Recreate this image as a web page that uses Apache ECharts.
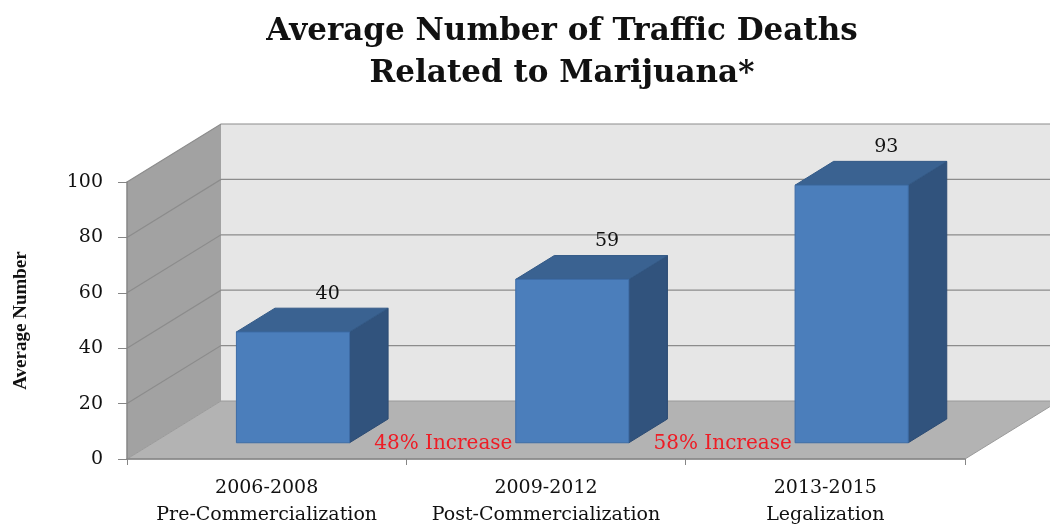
<!DOCTYPE html>
<html>
<head>
<meta charset="utf-8">
<script src="https://cdn.jsdelivr.net/npm/echarts@6/dist/echarts.min.js"></script>
<style>
  html, body { margin: 0; padding: 0; background: #ffffff; }
  #chart { width: 1050px; height: 529px; }
</style>
</head>
<body>
<div id="chart"></div>
<script>
// Chart data
const categories = [
  '2006-2008\nPre-Commercialization',
  '2009-2012\nPost-Commercialization',
  '2013-2015\nLegalization'
];
const averageDeaths = [40, 59, 93];
const yTicks = [0, 20, 40, 60, 80, 100];
const increaseNotes = ['48% Increase', '58% Increase'];

// Oblique projection of the chart box: how far the back plane sits from the front plane
const DX = 94, DY = -58;
// Bar placement inside the box depth (0 = front plane, 1 = back wall) and width share of a band
const BAR_FRONT = 0.28, BAR_BACK = 0.69, BAR_WIDTH = 0.405;

const SERIF = '"DejaVu Serif", "Liberation Serif", serif';

function renderWalls(params, api) {
  const cs = params.coordSys;
  const x0 = cs.x, x1 = cs.x + cs.width;
  const yBase = api.coord([0, yTicks[0]])[1];
  const yTop = api.coord([0, yTicks[yTicks.length - 1]])[1];
  const children = [
    { // back wall
      type: 'polygon',
      shape: { points: [[x0 + DX, yTop + DY], [x1 + DX, yTop + DY], [x1 + DX, yBase + DY], [x0 + DX, yBase + DY]] },
      style: { fill: '#e6e6e6' }
    },
    { // left side wall
      type: 'polygon',
      shape: { points: [[x0, yTop], [x0 + DX, yTop + DY], [x0 + DX, yBase + DY], [x0, yBase]] },
      style: { fill: '#a2a2a2' }
    },
    { // floor
      type: 'polygon',
      shape: { points: [[x0, yBase], [x1, yBase], [x1 + DX, yBase + DY], [x0 + DX, yBase + DY]] },
      style: { fill: '#b3b3b3', stroke: '#9a9a9a', lineWidth: 1 }
    }
  ];
  yTicks.forEach(function (v) {
    if (v === yTicks[0]) return;
    const y = api.coord([0, v])[1];
    children.push({
      type: 'polyline',
      shape: { points: [[x0, y], [x0 + DX, y + DY], [x1 + DX, y + DY]] },
      style: { stroke: '#8c8c8c', lineWidth: 1.2, fill: null }
    });
  });
  return { type: 'group', children: children };
}

function renderBar(params, api) {
  const idx = api.value(0);
  const val = api.value(1);
  const base = api.coord([idx, 0]);
  const top = api.coord([idx, val]);
  const w = api.size([1, 0])[0] * BAR_WIDTH;
  const fx = base[0] - w / 2 + BAR_FRONT * DX;
  const fyB = base[1] + BAR_FRONT * DY;
  const fyT = top[1] + BAR_FRONT * DY;
  const ddx = (BAR_BACK - BAR_FRONT) * DX;
  const ddy = (BAR_BACK - BAR_FRONT) * DY;
  return {
    type: 'group',
    children: [
      { // side face
        type: 'polygon',
        shape: { points: [[fx + w, fyT], [fx + w + ddx, fyT + ddy], [fx + w + ddx, fyB + ddy], [fx + w, fyB]] },
        style: { fill: '#31537d', stroke: '#2c4b73', lineWidth: 1 }
      },
      { // top face
        type: 'polygon',
        shape: { points: [[fx, fyT], [fx + w, fyT], [fx + w + ddx, fyT + ddy], [fx + ddx, fyT + ddy]] },
        style: { fill: '#3a6291', stroke: '#335a87', lineWidth: 1 }
      },
      { // front face
        type: 'rect',
        shape: { x: fx, y: fyT, width: w, height: fyB - fyT },
        style: { fill: '#4b7ebb', stroke: '#3d6ca6', lineWidth: 1 }
      },
      { // value label
        type: 'text',
        x: fx + w / 2 + ddx * 0.9,
        y: fyT + ddy - 14,
        style: {
          text: String(val),
          fontFamily: SERIF,
          fontSize: 19,
          fill: '#111111',
          align: 'center',
          verticalAlign: 'middle'
        }
      }
    ]
  };
}

function renderNote(params, api) {
  const i = api.value(0);
  const a = api.coord([i, 0]);
  const b = api.coord([i + 1, 0]);
  return {
    type: 'text',
    x: (a[0] + b[0]) / 2 + 37,
    y: a[1] - 15,
    style: {
      text: increaseNotes[i],
      fontFamily: SERIF,
      fontSize: 20,
      fill: '#ee1c25',
      align: 'center',
      verticalAlign: 'middle'
    }
  };
}

const chart = echarts.init(document.getElementById('chart'), null, { renderer: 'canvas' });
chart.setOption({
  animation: false,
  backgroundColor: '#ffffff',
  title: {
    text: 'Average Number of Traffic Deaths\nRelated to Marijuana*',
    left: 557,
    top: 6,
    textAlign: 'center',
    textStyle: {
      fontFamily: SERIF,
      fontWeight: 'bold',
      fontSize: 31,
      lineHeight: 42,
      color: '#111111'
    }
  },
  grid: { left: 127, right: 85, top: 182, bottom: 66, containLabel: false },
  xAxis: {
    type: 'category',
    data: categories,
    axisLine: { show: true, lineStyle: { color: '#868686', width: 1.5 } },
    axisTick: { show: true, interval: 0, length: 6, lineStyle: { color: '#868686' } },
    axisLabel: {
      interval: 0,
      hideOverlap: false,
      fontFamily: SERIF,
      fontSize: 19,
      lineHeight: 27,
      color: '#111111',
      margin: 16
    },
    splitLine: { show: false }
  },
  yAxis: {
    type: 'value',
    min: 0,
    max: 100,
    interval: 20,
    name: 'Average Number',
    nameLocation: 'middle',
    nameRotate: 90,
    nameGap: 96,
    nameTextStyle: {
      fontFamily: '"Liberation Serif", serif',
      fontWeight: 'bold',
      fontSize: 19,
      color: '#111111'
    },
    axisLine: { show: true, lineStyle: { color: '#868686', width: 1.5 } },
    axisTick: { show: true, length: 9, lineStyle: { color: '#868686' } },
    axisLabel: {
      fontFamily: SERIF,
      fontSize: 19,
      color: '#111111',
      margin: 24,
      customValues: yTicks
    },
    splitLine: { show: false }
  },
  series: [
    {
      type: 'custom',
      name: 'walls',
      renderItem: renderWalls,
      data: [[0, 0]],
      clip: false,
      z: 0,
      silent: true
    },
    {
      type: 'custom',
      name: 'Average Number',
      renderItem: renderBar,
      data: averageDeaths.map(function (v, i) { return [i, v]; }),
      clip: false,
      z: 3
    },
    {
      type: 'custom',
      name: 'notes',
      renderItem: renderNote,
      data: increaseNotes.map(function (t, i) { return [i]; }),
      clip: false,
      z: 4,
      silent: true
    }
  ]
});
</script>
</body>
</html>
